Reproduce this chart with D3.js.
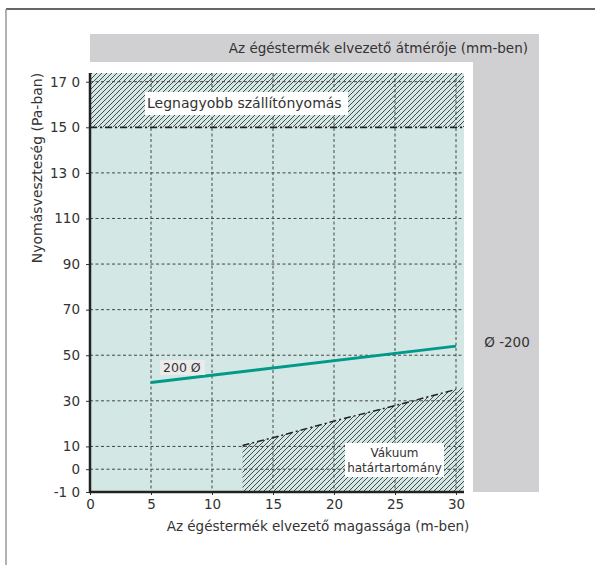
<!DOCTYPE html>
<html><head><meta charset="utf-8">
<script src="https://cdn.jsdelivr.net/npm/d3@7"></script>
<style>body{margin:0;background:#fff} text{font-family:"DejaVu Sans",sans-serif;fill:#333}</style>
</head><body>
<script>
// ---- data ----
const xTicks = [0, 5, 10, 15, 20, 25, 30];
const yTicks = [170, 150, 130, 110, 90, 70, 50, 30, 10, 0, -10];
const yTickLabels = ["17 0", "15 0", "13 0", "110", "90", "70", "50", "30", "10", "0", "-1 0"];
const gridY = [170, 130, 110, 90, 70, 50, 30, 10, 0];
const gridX = [5, 10, 15, 20, 25, 30];
const seriesName = "200 Ø";
const seriesX = [5, 30];
const seriesY = [38, 54];
const vacuumX = [12.5, 15, 20, 25, 30];
const vacuumY = [10.4, 13.8, 21.1, 27.9, 35];
const maxPressure = 150;
const xTitle = "Az égéstermék elvezető magassága (m-ben)";
const yTitle = "Nyomásveszteség (Pa-ban)";
const topTitle = "Az égéstermék elvezető átmérője (mm-ben)";
const sideLabel = "Ø -200";
const maxLabel = "Legnagyobb szállítónyomás";
const vacLabel = ["Vákuum", "határtartomány"];

// ---- layout ----
const W = 595, H = 565;
const x = d3.scaleLinear().domain([0, 30]).range([90, 456]);
const y = d3.scaleLinear().domain([-10, 170]).range([492, 81.7]);
const xMax = x.invert(464), yMax = y.invert(73);

const svg = d3.select("body").append("svg").attr("width", W).attr("height", H);
const defs = svg.append("defs");
const pat = defs.append("pattern").attr("id", "hatch").attr("patternUnits", "userSpaceOnUse")
  .attr("width", 5).attr("height", 5);
pat.append("path").attr("d", "M-1,1 l2,-2 M0,5 l5,-5 M4,6 l2,-2")
  .attr("stroke", "#222").attr("stroke-width", 0.8);

// outer frame
svg.append("line").attr("x1", 6).attr("y1", 9).attr("x2", W).attr("y2", 9).attr("stroke", "#333").attr("stroke-width", 1.5);
svg.append("line").attr("x1", 6).attr("y1", 9).attr("x2", 6).attr("y2", H).attr("stroke", "#999").attr("stroke-width", 1.5);

// gray L-band
svg.append("rect").attr("x", 90).attr("y", 34).attr("width", 449).attr("height", 28).attr("fill", "#d0d0d2");
svg.append("rect").attr("x", 473).attr("y", 34).attr("width", 66).attr("height", 458).attr("fill", "#d0d0d2");
svg.append("text").attr("x", 528).attr("y", 53).attr("text-anchor", "end").attr("font-size", 13.5).text(topTitle);
svg.append("text").attr("x", 507).attr("y", 347).attr("text-anchor", "middle").attr("font-size", 13.5).text(sideLabel);

// plot background
svg.append("rect").attr("x", x(0)).attr("y", y(yMax)).attr("width", x(xMax) - x(0)).attr("height", y(-10) - y(yMax)).attr("fill", "#d3e8e5");

// hatched top zone
svg.append("rect").attr("x", x(0)).attr("y", y(yMax)).attr("width", x(xMax) - x(0)).attr("height", y(maxPressure) - y(yMax)).attr("fill", "url(#hatch)");

// hatched vacuum zone
const slope = (vacuumY[4] - vacuumY[3]) / (vacuumX[4] - vacuumX[3]);
const vacPoly = [[vacuumX[0], -10]].concat(vacuumX.map((v, i) => [v, vacuumY[i]]))
  .concat([[xMax, vacuumY[4] + slope * (xMax - vacuumX[4])], [xMax, -10]]);
svg.append("path").attr("d", d3.line().x(d => x(d[0])).y(d => y(d[1]))(vacPoly) + "Z").attr("fill", "url(#hatch)");

// grid
svg.append("g").selectAll("line").data(gridX).join("line")
  .attr("x1", d => x(d)).attr("x2", d => x(d)).attr("y1", y(yMax)).attr("y2", y(-10))
  .attr("stroke", "#444").attr("stroke-width", 1).attr("stroke-dasharray", "3,2.5");
svg.append("g").selectAll("line").data(gridY).join("line")
  .attr("x1", x(0)).attr("x2", x(xMax)).attr("y1", d => y(d)).attr("y2", d => y(d))
  .attr("stroke", "#444").attr("stroke-width", 1).attr("stroke-dasharray", "3,2.5");

// max pressure line
svg.append("line").attr("x1", x(0)).attr("x2", x(xMax)).attr("y1", y(maxPressure)).attr("y2", y(maxPressure))
  .attr("stroke", "#222").attr("stroke-width", 1.8).attr("stroke-dasharray", "7,3,2,3");

// vacuum boundary
svg.append("path").attr("d", d3.line().x((d, i) => x(vacuumX[i])).y((d, i) => y(vacuumY[i]))(vacuumX))
  .attr("fill", "none").attr("stroke", "#222").attr("stroke-width", 1.5).attr("stroke-dasharray", "7,3,2,3");

// series
svg.append("path").attr("d", d3.line().x((d, i) => x(seriesX[i])).y((d, i) => y(seriesY[i]))(seriesX))
  .attr("fill", "none").attr("stroke", "#00998a").attr("stroke-width", 3);

// labels
svg.append("rect").attr("x", 145).attr("y", 92).attr("width", 203).attr("height", 23).attr("fill", "#fff");
svg.append("text").attr("x", 147).attr("y", 108).attr("font-size", 14).text(maxLabel);
svg.append("rect").attr("x", 160).attr("y", 360).attr("width", 45).attr("height", 15).attr("fill", "#ebebeb");
svg.append("text").attr("x", 163).attr("y", 372).attr("font-size", 12.5).text(seriesName);
svg.append("rect").attr("x", 345).attr("y", 443).attr("width", 99).attr("height", 34).attr("fill", "#fff");
svg.append("text").attr("x", 394.5).attr("y", 457).attr("text-anchor", "middle").attr("font-size", 12).text(vacLabel[0]);
svg.append("text").attr("x", 394.5).attr("y", 472).attr("text-anchor", "middle").attr("font-size", 12).text(vacLabel[1]);

// axes
const ya = svg.append("g").attr("transform", `translate(${x(0)},0)`)
  .call(d3.axisLeft(y).tickValues(yTicks).tickFormat((d, i) => yTickLabels[i]).tickSize(4).tickSizeOuter(0).tickPadding(6));
ya.select(".domain").remove();
ya.selectAll("line").attr("stroke", "#333");
ya.selectAll("text").attr("font-size", 13.5).attr("font-family", "DejaVu Sans").attr("fill", "#333");
const xa = svg.append("g").attr("transform", `translate(0,${y(-10)})`)
  .call(d3.axisBottom(x).tickValues(xTicks).tickSize(3).tickSizeOuter(0).tickPadding(4));
xa.select(".domain").remove();
xa.selectAll("line").attr("stroke", "#333");
xa.selectAll("text").attr("font-size", 13.5).attr("font-family", "DejaVu Sans").attr("fill", "#333");

svg.append("line").attr("x1", x(0)).attr("x2", x(0)).attr("y1", y(yMax)).attr("y2", y(-10) + 1).attr("stroke", "#222").attr("stroke-width", 2.5);
svg.append("line").attr("x1", x(0) - 1).attr("x2", x(xMax)).attr("y1", y(-10)).attr("y2", y(-10)).attr("stroke", "#222").attr("stroke-width", 2.5);

// titles
svg.append("text").attr("x", 318).attr("y", 531).attr("text-anchor", "middle").attr("font-size", 13.5).text(xTitle);
svg.append("text").attr("transform", "translate(42,168) rotate(-90)").attr("text-anchor", "middle").attr("font-size", 14).text(yTitle);
</script>
</body></html>
